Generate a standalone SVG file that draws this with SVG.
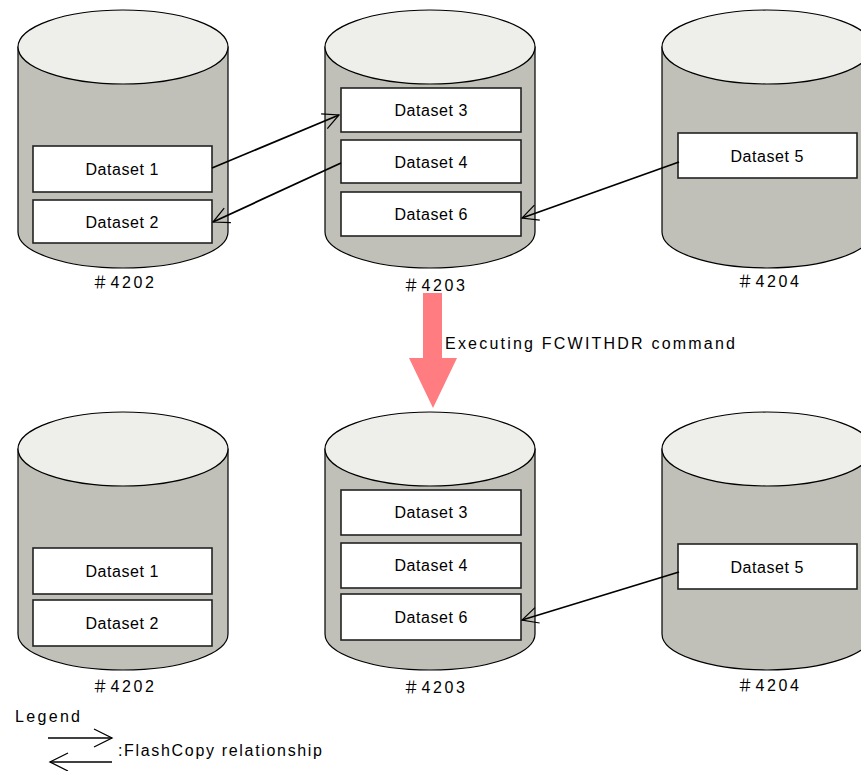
<svg xmlns="http://www.w3.org/2000/svg" width="861" height="771" viewBox="0 0 861 771">
<style>
.body{fill:#c0c0b8;stroke:#000;stroke-width:1.2}
.top{fill:#eeeeea;stroke:#000;stroke-width:1.2}
.box{fill:#fff;stroke:#222;stroke-width:1.6}
.t{font-family:"Liberation Sans","Noto Sans CJK JP",sans-serif;font-size:16px;fill:#000}
.c{text-anchor:middle}
.link{fill:none;stroke:#000;stroke-width:1.8;marker-end:url(#arr)}
.leg{fill:none;stroke:#000;stroke-width:1.4;marker-end:url(#legarr)}
</style>
<defs>
<marker id="arr" markerUnits="userSpaceOnUse" viewBox="-17 -10 19 20" refX="0" refY="0" markerWidth="19" markerHeight="20" orient="auto">
<path d="M -16 -8 L 0 0 L -16 8" fill="none" stroke="#000" stroke-width="1.2"/>
</marker>
<marker id="legarr" markerUnits="userSpaceOnUse" viewBox="-19 -11 21 22" refX="0" refY="0" markerWidth="21" markerHeight="22" orient="auto">
<path d="M -18 -9 L 0 0 L -18 9" fill="none" stroke="#000" stroke-width="1.3"/>
</marker>
</defs>

<!-- Top row -->
<g id="vol4202-top">
<path class="body" d="M 18 47 L 18 232 A 105 36 0 0 0 228 232 L 228 47 Z"/>
<ellipse class="top" cx="123" cy="47" rx="105" ry="37"/>
<text class="t c" x="123" y="288" textLength="62" lengthAdjust="spacing">＃4202</text>
</g>
<g id="ds1-top">
<rect class="box" x="33" y="146" width="179" height="46"/>
<text class="t c" x="122" y="175" textLength="73" lengthAdjust="spacing">Dataset 1</text>
</g>
<g id="ds2-top">
<rect class="box" x="33" y="200" width="179" height="43"/>
<text class="t c" x="122" y="228" textLength="73" lengthAdjust="spacing">Dataset 2</text>
</g>

<g id="vol4203-top">
<path class="body" d="M 325 47 L 325 232 A 105 36 0 0 0 535 232 L 535 47 Z"/>
<ellipse class="top" cx="430" cy="47" rx="105" ry="37"/>
<text class="t c" x="434" y="291" textLength="62" lengthAdjust="spacing">＃4203</text>
</g>
<g id="ds3-top">
<rect class="box" x="341" y="88" width="180" height="44"/>
<text class="t c" x="431" y="116" textLength="73" lengthAdjust="spacing">Dataset 3</text>
</g>
<g id="ds4-top">
<rect class="box" x="341" y="140" width="180" height="43"/>
<text class="t c" x="431" y="168" textLength="73" lengthAdjust="spacing">Dataset 4</text>
</g>
<g id="ds6-top">
<rect class="box" x="341" y="192" width="180" height="44"/>
<text class="t c" x="431" y="220" textLength="73" lengthAdjust="spacing">Dataset 6</text>
</g>

<g id="vol4204-top">
<path class="body" d="M 662 47 L 662 232 A 105 36 0 0 0 872 232 L 872 47 Z"/>
<ellipse class="top" cx="767" cy="47" rx="105" ry="37"/>
<text class="t c" x="768" y="287" textLength="62" lengthAdjust="spacing">＃4204</text>
</g>
<g id="ds5-top">
<rect class="box" x="678" y="133" width="179" height="45"/>
<text class="t c" x="767" y="162" textLength="73" lengthAdjust="spacing">Dataset 5</text>
</g>

<!-- Bottom row -->
<g id="vol4202-bottom">
<path class="body" d="M 18 449 L 18 634 A 105 36 0 0 0 228 634 L 228 449 Z"/>
<ellipse class="top" cx="123" cy="449" rx="105" ry="37"/>
<text class="t c" x="123" y="692" textLength="62" lengthAdjust="spacing">＃4202</text>
</g>
<g id="ds1-bottom">
<rect class="box" x="33" y="548" width="179" height="46"/>
<text class="t c" x="122" y="577" textLength="73" lengthAdjust="spacing">Dataset 1</text>
</g>
<g id="ds2-bottom">
<rect class="box" x="33" y="600" width="179" height="46"/>
<text class="t c" x="122" y="629" textLength="73" lengthAdjust="spacing">Dataset 2</text>
</g>

<g id="vol4203-bottom">
<path class="body" d="M 325 449 L 325 634 A 105 36 0 0 0 535 634 L 535 449 Z"/>
<ellipse class="top" cx="430" cy="449" rx="105" ry="37"/>
<text class="t c" x="434" y="693" textLength="62" lengthAdjust="spacing">＃4203</text>
</g>
<g id="ds3-bottom">
<rect class="box" x="341" y="490" width="180" height="45"/>
<text class="t c" x="431" y="518" textLength="73" lengthAdjust="spacing">Dataset 3</text>
</g>
<g id="ds4-bottom">
<rect class="box" x="341" y="543" width="180" height="45"/>
<text class="t c" x="431" y="571" textLength="73" lengthAdjust="spacing">Dataset 4</text>
</g>
<g id="ds6-bottom">
<rect class="box" x="341" y="594" width="180" height="46"/>
<text class="t c" x="431" y="623" textLength="73" lengthAdjust="spacing">Dataset 6</text>
</g>

<g id="vol4204-bottom">
<path class="body" d="M 662 449 L 662 634 A 105 36 0 0 0 872 634 L 872 449 Z"/>
<ellipse class="top" cx="767" cy="449" rx="105" ry="37"/>
<text class="t c" x="768" y="691" textLength="62" lengthAdjust="spacing">＃4204</text>
</g>
<g id="ds5-bottom">
<rect class="box" x="678" y="544" width="179" height="45"/>
<text class="t c" x="767" y="573" textLength="73" lengthAdjust="spacing">Dataset 5</text>
</g>

<!-- Process arrow -->
<g id="process">
<polygon points="423,293 442,293 442,358 457,358 433,408 409,358 423,358" fill="#ff7c80"/>
<text class="t" x="445" y="349" textLength="290" lengthAdjust="spacing">Executing FCWITHDR command</text>
</g>

<!-- Connectors -->
<g id="connectors">
<path class="link" d="M 212 168 L 339 115"/>
<path class="link" d="M 341 163 L 213 222"/>
<path class="link" d="M 679 162 L 522 218"/>
<path class="link" d="M 679 572 L 522 620"/>
</g>

<!-- Legend -->
<g id="legend">
<text class="t" x="15" y="722" textLength="65" lengthAdjust="spacing">Legend</text>
<path class="leg" d="M 48 738 L 112 738"/>
<path class="leg" d="M 112 762 L 50 762"/>
<text class="t" x="118" y="756" textLength="204" lengthAdjust="spacing">:FlashCopy relationship</text>
</g>
</svg>
